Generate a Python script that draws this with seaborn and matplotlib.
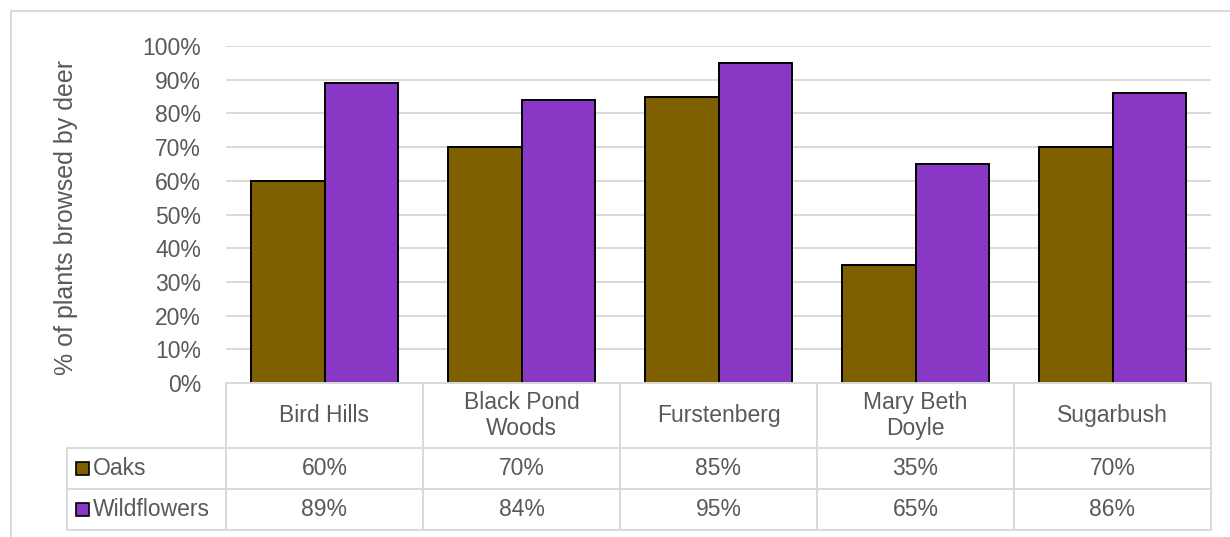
import matplotlib
matplotlib.use("Agg")
import matplotlib.pyplot as plt
from matplotlib.lines import Line2D
from matplotlib.patches import Rectangle
import seaborn as sns
import pandas as pd

# Data
sites = ["Bird Hills", "Black Pond\nWoods", "Furstenberg", "Mary Beth\nDoyle", "Sugarbush"]
series = ["Oaks", "Wildflowers"]
oaks = [60, 70, 85, 35, 70]
wildflowers = [89, 84, 95, 65, 86]
yticks = [0, 10, 20, 30, 40, 50, 60, 70, 80, 90, 100]

colors = {"Oaks": "#7F6000", "Wildflowers": "#8838C4"}
text_color = "#595959"
line_color = "#D9D9D9"
fs = 16.5

df = pd.DataFrame({
    "site": sites * 2,
    "series": ["Oaks"] * len(sites) + ["Wildflowers"] * len(sites),
    "value": [v / 100 for v in oaks] + [v / 100 for v in wildflowers],
})

sns.set_theme(style="white")
plt.rcParams["font.family"] = ["Liberation Sans", "DejaVu Sans"]

W, H = 1230, 537
fig = plt.figure(figsize=(W / 100, H / 100), dpi=100)

# Plot area in pixel terms
left, right, top, bottom = 226, 1211, 46, 383
ax = fig.add_axes([left / W, 1 - bottom / H, (right - left) / W, (bottom - top) / H])

sns.barplot(data=df, x="site", y="value", hue="series", order=sites,
            hue_order=series, palette=colors, saturation=1, width=0.75,
            edgecolor="black", linewidth=1.4, ax=ax, legend=False, zorder=3)

ax.set_ylim(0, 1.0)
ax.set_xlim(-0.5, len(sites) - 0.5)
ax.set_yticks([t / 100 for t in yticks])
ax.set_yticklabels([f"{t}%" for t in yticks], fontsize=fs, color=text_color)
ax.tick_params(axis="y", length=0, pad=18)
ax.set_xticks([])
ax.set_xlabel("")
ax.set_ylabel("% of plants browsed by deer", fontsize=18, color=text_color)
ax.yaxis.set_label_coords((78 - left) / (right - left), 0.49)
ax.grid(axis="y", color=line_color, linewidth=1.4, zorder=0)
for s in ax.spines.values():
    s.set_visible(False)

# Data table beneath the axis, positioned in figure pixels
def fx(px):
    return px / W

def fy(py):
    return 1 - py / H

col_edges = [left + i * (right - left) / len(sites) for i in range(len(sites) + 1)]
legend_left = 67
row_edges = [383, 448, 489, 530]

def hline(y, x0, x1):
    fig.add_artist(Line2D([fx(x0), fx(x1)], [fy(y), fy(y)], color=line_color,
                          linewidth=1.4, zorder=5))

def vline(x, y0, y1):
    fig.add_artist(Line2D([fx(x), fx(x)], [fy(y0), fy(y1)], color=line_color,
                          linewidth=1.4, zorder=5))

hline(row_edges[0], left, right)
for y in row_edges[1:]:
    hline(y, legend_left, right)
for x in col_edges:
    vline(x, row_edges[0], row_edges[-1])
vline(legend_left, row_edges[1], row_edges[-1])

# Category header row
for i, name in enumerate(sites):
    cx = (col_edges[i] + col_edges[i + 1]) / 2
    cy = (row_edges[0] + row_edges[1]) / 2
    fig.text(fx(cx), fy(cy), name, ha="center", va="center", fontsize=fs,
             color=text_color, linespacing=1.2)

# Value rows with legend keys
for r, (name, vals) in enumerate(zip(series, [oaks, wildflowers])):
    cy = (row_edges[r + 1] + row_edges[r + 2]) / 2
    fig.add_artist(Rectangle((fx(76), fy(cy + 6.5)), 13 / W, 13 / H,
                             facecolor=colors[name], edgecolor="black",
                             linewidth=1.2, transform=fig.transFigure, zorder=6))
    fig.text(fx(93), fy(cy), name, ha="left", va="center", fontsize=fs,
             color=text_color)
    for i, v in enumerate(vals):
        cx = (col_edges[i] + col_edges[i + 1]) / 2
        fig.text(fx(cx), fy(cy), f"{v}%", ha="center", va="center",
                 fontsize=fs, color=text_color)

# Chart area frame (top and left edges)
fig.add_artist(Line2D([fx(11), 1], [fy(11), fy(11)], color=line_color, linewidth=1.4))
fig.add_artist(Line2D([fx(11), fx(11)], [fy(11), 0], color=line_color, linewidth=1.4))

fig.savefig("out.png", dpi=100)
